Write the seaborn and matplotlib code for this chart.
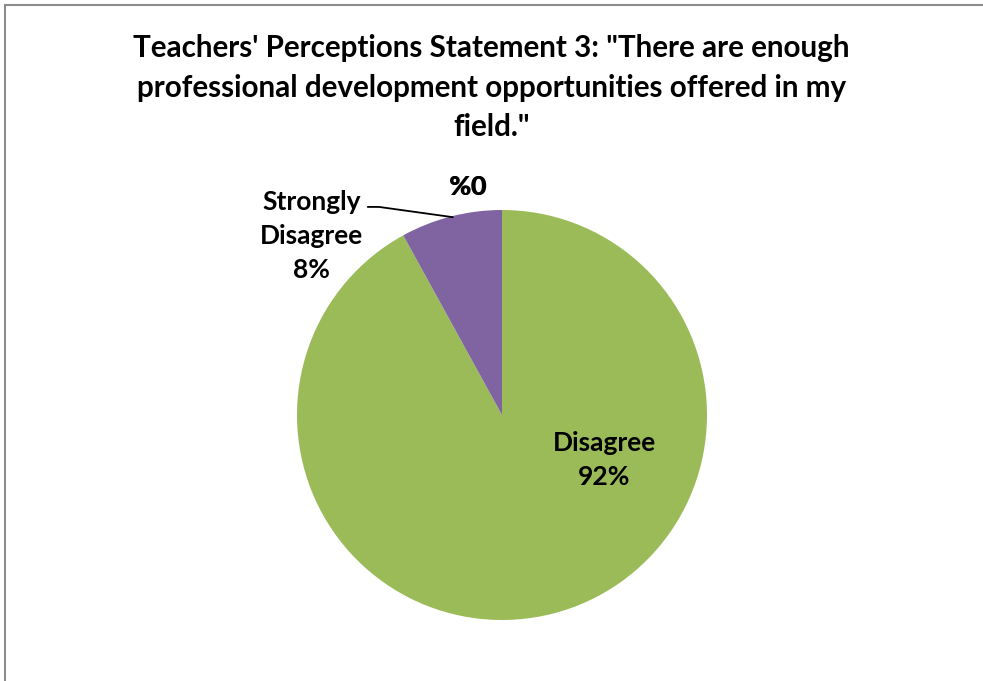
import numpy as np
import matplotlib
matplotlib.use("Agg")
import matplotlib.pyplot as plt
from matplotlib.patches import Rectangle
import seaborn as sns

# data
categories = ["Strongly Agree", "Agree", "Disagree", "Strongly Disagree"]
values = [0, 0, 92, 8]
title = "Teachers' Perceptions Statement 3: \"There are enough\nprofessional development opportunities offered in my\nfield.\""

sns.set_theme(style="white")
plt.rcParams["font.family"] = ["Lato", "DejaVu Sans"]
colors = ["#4F81BD", "#C0504D", "#9BBB59", "#8064A2"]

W, H = 983, 681
fig = plt.figure(figsize=(W / 100, H / 100), dpi=100)

# pie axes: centre (502, 415) px, radius 205 px
cx, cy, r = 502, 415, 205
ax = fig.add_axes([(cx - r) / W, (H - cy - r) / H, 2 * r / W, 2 * r / H])
ax.pie(values, colors=colors, startangle=90, counterclock=False,
       radius=1, wedgeprops=dict(linewidth=0))
ax.set_xlim(-1, 1)
ax.set_ylim(-1, 1)
ax.set_aspect("equal")
ax.axis("off")

fs = 19
txt = dict(ha="center", va="center", fontsize=fs, fontweight="bold",
           color="black", linespacing=1.5)
ax.text(0.50, -0.22, f"{categories[2]}\n{values[2]}%", **txt)
ax.text(-0.93, 0.875, f"Strongly\n{categories[3].split()[1]}\n{values[3]}%", **txt)
# overlapping zero-value labels
ax.text(-0.17, 1.11, f"%{values[0]}", **txt)
ax.text(-0.166, 1.11, f"%{values[1]}", **txt)
# leader line for Strongly Disagree
ax.plot([-0.655, -0.6, -0.24], [1.015, 1.015, 0.965], color="black",
        linewidth=1.3, clip_on=False)

fig.text(0.5, 0.871, title, ha="center", va="center", fontsize=21.3,
         fontweight="bold", color="black", linespacing=1.5)

# chart border (only top and left visible)
fig.add_artist(Rectangle((5 / W, -0.1), 1.2, 1.1 - 5 / H,
                         transform=fig.transFigure, fill=False,
                         edgecolor="#8c8c8c", linewidth=1.5, clip_on=False))

fig.savefig("out.png", dpi=100)
